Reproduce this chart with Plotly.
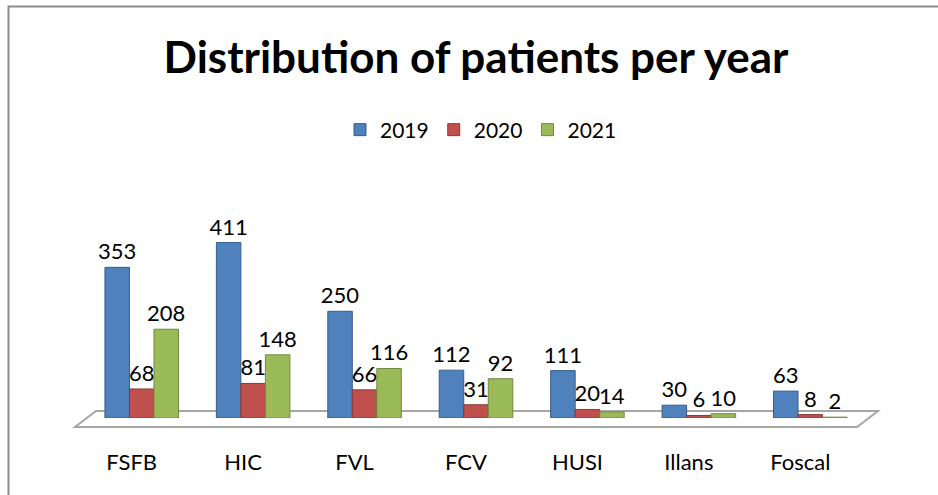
import plotly.graph_objects as go

categories = ["FSFB", "HIC", "FVL", "FCV", "HUSI", "Illans", "Foscal"]
years = ["2019", "2020", "2021"]
v2019 = [353, 411, 250, 112, 111, 30, 63]
v2020 = [68, 81, 66, 31, 20, 6, 8]
v2021 = [208, 148, 116, 92, 14, 10, 2]
series = [v2019, v2020, v2021]
colors = ["#4F81BD", "#C0504D", "#9BBB59"]
edges = ["#385D8A", "#8C3836", "#71893F"]

W, H = 938, 495
L, R, T, B = 86, 72, 170, 77
pw, ph = W - L - R, H - T - B

def px(x):
    return (x - L) / pw

def py(y):
    return (H - B - y) / ph

fig = go.Figure()
for name, vals, c, e in zip(years, series, colors, edges):
    fig.add_trace(go.Bar(
        x=categories, y=vals, name=name,
        marker=dict(color=c, line=dict(color=e, width=1)),
        text=[str(v) for v in vals], textposition="outside",
        textfont=dict(size=22, color="black", family="Lato"),
        cliponaxis=False,
    ))

# floor (3D base plate)
floor = (f"M {px(75)} {py(427)} L {px(857)} {py(427)} L {px(878)} {py(411)} "
         f"L {px(96)} {py(411)} Z")
fig.add_shape(type="path", path=floor, xref="paper", yref="paper",
              line=dict(color="#A6A6A6", width=2), fillcolor="white", layer="below")
# chart border (left and top edges visible)
border = f"M {px(8.5)} {py(496)} L {px(8.5)} {py(6.5)} L {px(940)} {py(6.5)}"
fig.add_shape(type="path", path=border, xref="paper", yref="paper",
              line=dict(color="#8C8C8C", width=2), layer="below")

fig.update_layout(
    width=W, height=H,
    margin=dict(l=L, r=R, t=T, b=B),
    paper_bgcolor="white", plot_bgcolor="rgba(0,0,0,0)",
    barmode="group", bargap=0.34, bargroupgap=0.0,
    uniformtext=dict(minsize=22, mode="show"),
    title=dict(text="<b>Distribution of patients per year</b>",
               x=0.5, xref="paper", xanchor="center", y=1 - 58 / H, yanchor="middle",
               font=dict(size=44, color="black", family="Lato")),
    legend=dict(orientation="h", x=px(481), xanchor="center", xref="paper",
                y=py(130), yanchor="middle", yref="paper",
                font=dict(size=21, color="black", family="Lato"),
                itemwidth=30, traceorder="normal"),
    font=dict(family="Lato", color="black"),
    showlegend=True,
)
fig.update_xaxes(showline=False, showgrid=False, ticks="",
                 tickfont=dict(size=22, color="black", family="Lato"),
                 ticklabelstandoff=29, ticklabelshift=-10)
fig.update_yaxes(range=[0, 581], visible=False)

fig.write_html("out.html", config={"displayModeBar": False},
               post_script="document.body.style.margin='0';document.body.style.overflow='hidden';")
